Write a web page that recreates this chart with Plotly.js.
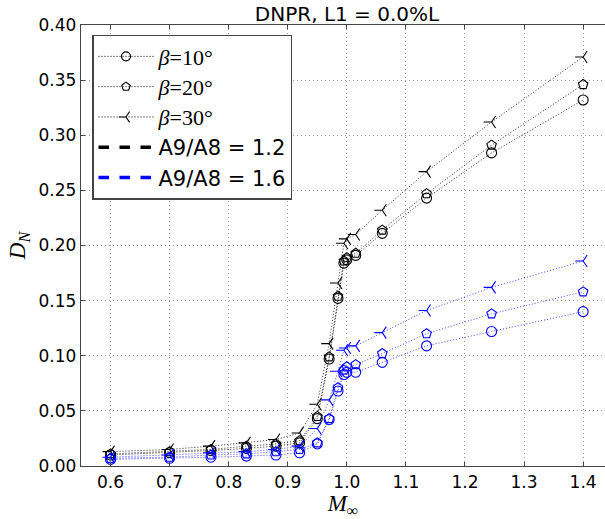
<!DOCTYPE html>
<html>
<head>
<meta charset="utf-8">
<script src="https://cdn.plot.ly/plotly-3.0.1.min.js"></script>
<style>html,body{margin:0;padding:0;background:#fff;}#chart{width:605px;height:519px;}</style>
</head>
<body>
<div id="chart"></div>
<script>
// Free-stream Mach number
const mach = [0.6, 0.7, 0.77, 0.83, 0.88, 0.92, 0.95, 0.97, 0.985, 0.995, 1.0, 1.015, 1.06, 1.135, 1.245, 1.4];

// A9/A8 = 1.2 (black)
const dn_b10_r12 = [0.010, 0.012, 0.014, 0.016, 0.018, 0.021, 0.043, 0.097, 0.152, 0.184, 0.187, 0.191, 0.211, 0.243, 0.284, 0.332];
const dn_b20_r12 = [0.011, 0.013, 0.015, 0.018, 0.020, 0.023, 0.045, 0.099, 0.154, 0.186, 0.189, 0.193, 0.214, 0.247, 0.291, 0.346];
const dn_b30_r12 = [0.013, 0.015, 0.018, 0.021, 0.024, 0.030, 0.056, 0.111, 0.166, 0.202, 0.206, 0.210, 0.232, 0.267, 0.312, 0.371];

// A9/A8 = 1.6 (blue)
const dn_b10_r16 = [0.006, 0.007, 0.008, 0.009, 0.010, 0.012, 0.020, 0.042, 0.068, 0.083, 0.085, 0.085, 0.094, 0.109, 0.122, 0.140];
const dn_b20_r16 = [0.007, 0.008, 0.010, 0.011, 0.013, 0.015, 0.021, 0.043, 0.071, 0.087, 0.090, 0.092, 0.102, 0.120, 0.138, 0.158];
const dn_b30_r16 = [0.008, 0.010, 0.012, 0.013, 0.015, 0.018, 0.034, 0.060, 0.086, 0.105, 0.107, 0.109, 0.121, 0.141, 0.162, 0.186];

const betaLabels = ['10', '20', '30'];
const ratioLabels = ['1.2', '1.6'];
const yTicks = [0.00, 0.05, 0.10, 0.15, 0.20, 0.25, 0.30, 0.35, 0.40];
const xTicks = [0.6, 0.7, 0.8, 0.9, 1.0, 1.1, 1.2, 1.3, 1.4];

const symbols = ['circle-open', 'pentagon-open', 'y-left-open'];
const colors = ['#000000', '#0000ff'];
const lineColors = ['rgba(0,0,0,0.85)', 'rgba(0,0,255,0.75)'];
const series = [
  [dn_b10_r12, dn_b20_r12, dn_b30_r12],
  [dn_b10_r16, dn_b20_r16, dn_b30_r16]
];

const traces = [];
series.forEach((group, ci) => {
  group.forEach((ys, bi) => {
    traces.push({
      x: mach, y: ys, type: 'scatter', mode: 'lines+markers',
      showlegend: false,
      line: {color: lineColors[ci], width: 1, dash: '1px,2px'},
      marker: {symbol: symbols[bi], size: 10, color: colors[ci], line: {color: colors[ci], width: 1.1}}
    });
  });
});

// legend entries
const serif = 'Liberation Serif';
betaLabels.forEach((b, bi) => {
  traces.push({
    x: [null], y: [null], type: 'scatter', mode: 'lines+markers',
    name: '<span style="font-family:' + serif + ';font-size:22px"><i>β</i>=' + b + '°</span>',
    line: {color: '#000', width: 1, dash: '1px,2px'},
    marker: {symbol: symbols[bi], size: 9, color: '#000', line: {color: '#000', width: 1.1}}
  });
});
ratioLabels.forEach((r, ri) => {
  traces.push({
    x: [null], y: [null], type: 'scatter', mode: 'lines',
    name: 'A9/A8 = ' + r,
    line: {color: colors[ri], width: 3.5, dash: 'dash'}
  });
});

const gridCol = 'rgba(0,0,0,0.4)';
const layout = {
  width: 605, height: 519,
  margin: {l: 81, r: 0, t: 25, b: 53},
  paper_bgcolor: '#fff', plot_bgcolor: '#fff',
  font: {family: 'DejaVu Sans', color: '#000', size: 17},
  title: {text: 'DNPR, L1 = 0.0%L', font: {family: 'DejaVu Sans', size: 20, color: '#000'},
          x: 0.5736, xanchor: 'center', y: 0.973, yanchor: 'middle', yref: 'container'},
  xaxis: {
    range: [0.55, 1.437], tickvals: xTicks, ticktext: xTicks.map(v => v.toFixed(1)),
    showgrid: true, gridcolor: gridCol, griddash: '1px,3px', gridwidth: 1,
    showline: true, linecolor: '#444', linewidth: 1.2, mirror: 'ticks',
    ticks: 'inside', ticklen: 4, tickcolor: '#444', zeroline: false,
    tickfont: {family: 'DejaVu Sans', size: 17},
    title: {text: '<i>M</i><sub>∞</sub>', font: {family: serif, size: 23}, standoff: 6}
  },
  yaxis: {
    range: [0, 0.40], tickvals: yTicks, ticktext: yTicks.map(v => v.toFixed(2)),
    showgrid: true, gridcolor: gridCol, griddash: '1px,3px', gridwidth: 1,
    showline: true, linecolor: '#444', linewidth: 1.2, mirror: false,
    ticks: 'inside', ticklen: 4, tickcolor: '#444', zeroline: false,
    tickfont: {family: 'DejaVu Sans', size: 17},
    title: {text: '<i>D</i><sub><i>N</i></sub>', font: {family: serif, size: 23}, standoff: 6}
  },
  showlegend: true,
  legend: {
    x: 0.021, y: 0.978, xanchor: 'left', yanchor: 'top',
    bgcolor: '#fff', bordercolor: '#444', borderwidth: 1.5,
    font: {family: 'DejaVu Sans', size: 21, color: '#000'},
    tracegroupgap: 0, itemwidth: 55
  }
};

Plotly.newPlot('chart', traces, layout, {displayModeBar: false, staticPlot: true});
</script>
</body>
</html>
